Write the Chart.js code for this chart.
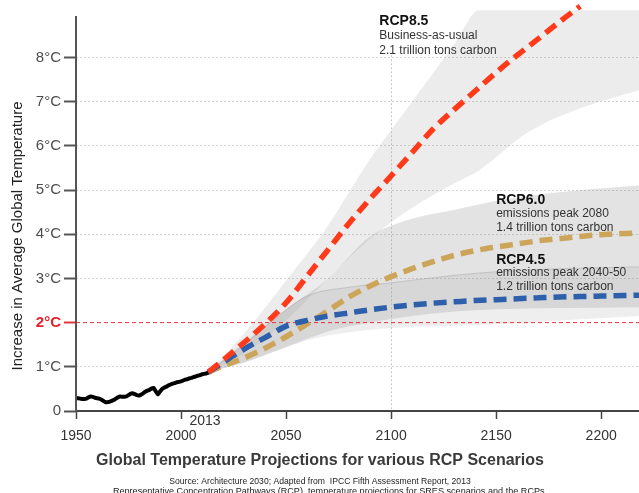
<!DOCTYPE html>
<html>
<head>
<meta charset="utf-8">
<script src="https://cdn.jsdelivr.net/npm/chart.js@4.4.1/dist/chart.umd.min.js"></script>
<style>
html,body{margin:0;padding:0;background:#fff;overflow:hidden}
#wrap{width:639px;height:493px;position:relative}
</style>
</head>
<body>
<div id="wrap"><canvas id="c" width="639" height="493"></canvas></div>
<script>
// ---------- data ----------
const histYears = [1950,1951,1952,1953,1954,1955,1956,1957,1958,1959,1960,1961,1962,1963,1964,1965,1966,1967,1968,1969,1970,1971,1972,1973,1974,1975,1976,1977,1978,1979,1980,1981,1982,1983,1984,1985,1986,1987,1988,1989,1990,1991,1992,1993,1994,1995,1996,1997,1998,1999,2000,2001,2002,2003,2004,2005,2006,2007,2008,2009,2010,2011,2012,2013];
const histTemp = [0.29,0.29,0.28,0.27,0.27,0.28,0.31,0.33,0.32,0.30,0.29,0.28,0.26,0.23,0.20,0.20,0.21,0.23,0.25,0.28,0.31,0.33,0.32,0.32,0.33,0.36,0.39,0.40,0.38,0.36,0.35,0.37,0.40,0.44,0.46,0.48,0.51,0.52,0.44,0.38,0.44,0.50,0.53,0.55,0.58,0.60,0.62,0.63,0.65,0.66,0.67,0.69,0.71,0.72,0.74,0.75,0.77,0.78,0.80,0.81,0.83,0.84,0.85,0.87];

const rcp85Years = [2013,2020,2030,2040,2050,2060,2070,2080,2090,2100,2110,2120,2130,2140,2150,2160,2170,2180,2190];
const rcp85 = [0.88,1.15,1.55,1.97,2.45,3.05,3.65,4.25,4.80,5.32,5.85,6.38,6.82,7.24,7.66,8.05,8.42,8.80,9.16];

const lineYears = [2013,2020,2030,2040,2050,2060,2070,2080,2090,2100,2110,2120,2130,2140,2150,2160,2170,2180,2190,2200,2218];
const rcp60 = [0.88,1.02,1.20,1.42,1.68,1.97,2.27,2.58,2.83,3.04,3.22,3.38,3.52,3.63,3.71,3.78,3.85,3.90,3.95,3.99,4.03];
const rcp45 = [0.88,1.10,1.40,1.66,1.92,2.05,2.15,2.22,2.29,2.35,2.40,2.44,2.47,2.50,2.52,2.54,2.56,2.58,2.59,2.60,2.62];

const band85Years = [2013,2030,2050,2070,2090,2110,2130,2142,2165,2190,2218];
const band85Upper = [0.88,1.75,2.95,4.20,5.70,7.00,8.30,9.07,9.07,9.07,9.07];
const band85Lower = [0.88,1.30,2.05,3.00,3.90,4.60,5.15,5.45,6.30,6.85,7.26];

const band60Years = [2013,2030,2050,2070,2090,2110,2130,2150,2180,2218];
const band60Upper = [0.88,1.55,2.30,3.00,3.95,4.35,4.55,4.75,4.95,5.10];
const band60Lower = [0.88,1.10,1.45,1.80,2.00,2.15,2.25,2.30,2.33,2.35];

const band45Years = [2013,2030,2045,2060,2080,2100,2130,2150,2180,2218];
const band45Upper = [0.88,1.50,2.10,2.60,2.80,2.90,3.07,3.15,3.22,3.26];
const band45Lower = [0.88,1.10,1.35,1.60,1.78,1.88,1.93,1.97,2.05,2.15];

const limitYears = [1950,2218];
const limitTemp = [2,2];

const xTicks = [1950,2000,2050,2100,2150,2200];
const xTickLabels = ['1950','2000','2050','2100','2150','2200'];
const yTicks = [0,1,2,3,4,5,6,7,8];
const yTickLabels = ['0','1°C','2°C','3°C','4°C','5°C','6°C','7°C','8°C'];

// ---------- styling / layout ----------
const FONT = '"Liberation Sans", Arial, sans-serif';
const pts = (xs, ys) => xs.map((v, i) => ({x: v, y: ys[i]}));

const lineStyle = (color, order) => ({
  borderColor: color, borderWidth: 5.5, borderDash: [13, 7], borderCapStyle: 'butt',
  pointRadius: 0, fill: false, cubicInterpolationMode: 'monotone', order
});
const bandTop = (color) => ({
  borderWidth: 0, pointRadius: 0, fill: '+1', backgroundColor: color,
  cubicInterpolationMode: 'monotone', order: 20
});
const bandBottom = () => ({
  borderWidth: 0, pointRadius: 0, fill: false, cubicInterpolationMode: 'monotone', order: 20
});

const datasets = [
  Object.assign({label: 'RCP8.5', data: pts(rcp85Years, rcp85)}, lineStyle('#ff3a1a', 0)),
  Object.assign({label: 'RCP4.5', data: pts(lineYears, rcp45)}, lineStyle('#2d5faa', 1)),
  Object.assign({label: 'RCP6.0', data: pts(lineYears, rcp60)}, lineStyle('#cca55a', 2)),
  {label: 'Observed', data: pts(histYears, histTemp), borderColor: '#000', borderWidth: 4,
   borderJoinStyle: 'round', borderCapStyle: 'round', pointRadius: 0, fill: false, tension: 0, order: 3},
  Object.assign({label: 'RCP8.5 range top', data: pts(band85Years, band85Upper)}, bandTop('rgba(160,160,160,0.2)')),
  Object.assign({label: 'RCP8.5 range bottom', data: pts(band85Years, band85Lower)}, bandBottom()),
  Object.assign({label: 'RCP6.0 range top', data: pts(band60Years, band60Upper)}, bandTop('rgba(150,150,150,0.27)')),
  Object.assign({label: 'RCP6.0 range bottom', data: pts(band60Years, band60Lower)}, bandBottom()),
  Object.assign({label: 'RCP4.5 range top', data: pts(band45Years, band45Upper)}, bandTop('rgba(150,150,150,0.16)'),
     {borderWidth: 1, borderColor: 'rgba(165,165,165,0.45)'}),
  Object.assign({label: 'RCP4.5 range bottom', data: pts(band45Years, band45Lower)}, bandBottom()),
  {label: '2°C', data: pts(limitYears, limitTemp), borderColor: '#e8323c', borderWidth: 1,
   borderDash: [4, 3], pointRadius: 0, fill: false, order: 5}
];

const notes = [
  {t: 'RCP8.5', yr: 2094.4, v: 8.82, bold: true},
  {t: 'Business-as-usual', yr: 2094.4, v: 8.485},
  {t: '2.1 trillion tons carbon', yr: 2094.4, v: 8.157},
  {t: 'RCP6.0', yr: 2150, v: 4.781, bold: true},
  {t: 'emissions peak 2080', yr: 2150, v: 4.473},
  {t: '1.4 trillion tons carbon', yr: 2150, v: 4.157},
  {t: 'RCP4.5', yr: 2150, v: 3.424, bold: true},
  {t: 'emissions peak 2040-50', yr: 2150, v: 3.138},
  {t: '1.2 trillion tons carbon', yr: 2150, v: 2.82}
];

const overlay = {
  id: 'overlay',
  beforeDatasetsDraw(chart) {
    const {ctx, scales: {x, y}} = chart;
    ctx.save();
    ctx.strokeStyle = '#c8c8c8'; ctx.lineWidth = 1; ctx.setLineDash([2, 2]);
    const px = Math.round(x.getPixelForValue(2100)) + 0.5;
    ctx.beginPath(); ctx.moveTo(px, y.getPixelForValue(8.05)); ctx.lineTo(px, y.getPixelForValue(0)); ctx.stroke();
    ctx.restore();
  },
  afterDraw(chart) {
    const {ctx, scales: {x, y}} = chart;
    ctx.save();
    // vertical axis line
    ctx.strokeStyle = '#555'; ctx.lineWidth = 2;
    const ax = x.getPixelForValue(1950);
    ctx.beginPath(); ctx.moveTo(ax, y.getPixelForValue(8.94)); ctx.lineTo(ax, y.getPixelForValue(0) + 1); ctx.stroke();
    // scenario notes
    ctx.textBaseline = 'middle'; ctx.textAlign = 'left';
    notes.forEach(n => {
      ctx.font = n.bold ? 'bold 14px ' + FONT : '12px ' + FONT;
      ctx.fillStyle = n.bold ? '#111' : '#333';
      ctx.fillText(n.t, x.getPixelForValue(n.yr), y.getPixelForValue(n.v));
    });
    // 2013 label
    ctx.textAlign = 'center';
    ctx.font = '14px ' + FONT; ctx.fillStyle = '#333';
    ctx.fillText('2013', x.getPixelForValue(2011.4), y.getPixelForValue(-0.23));
    // y axis title
    ctx.save();
    ctx.translate(18, 236); ctx.rotate(-Math.PI / 2);
    ctx.font = '15px ' + FONT; ctx.fillStyle = '#222';
    ctx.fillText('Increase in Average Global Temperature', 0, 0);
    ctx.restore();
    // bottom title and sources
    ctx.fillStyle = '#3a3a3a';
    ctx.font = 'bold 16px ' + FONT;
    ctx.fillText('Global Temperature Projections for various RCP Scenarios', 320, 461);
    ctx.fillStyle = '#222';
    ctx.font = '8.6px ' + FONT;
    ctx.fillText('Source: Architecture 2030; Adapted from  IPCC Fifth Assessment Report, 2013', 320, 482);
    ctx.font = '9.1px ' + FONT;
    ctx.fillText('Representative Concentration Pathways (RCP), temperature projections for SRES scenarios and the RCPs.', 330, 491);
    ctx.restore();
  }
};

new Chart(document.getElementById('c'), {
  type: 'line',
  data: {datasets},
  options: {
    responsive: false,
    animation: false,
    events: [],
    layout: {padding: 0},
    plugins: {legend: {display: false}, tooltip: {enabled: false}, title: {display: false}},
    scales: {
      x: {
        type: 'linear', min: 1950, max: 2218,
        afterBuildTicks: s => { s.ticks = xTicks.map(v => ({value: v})); },
        afterFit: s => { s.height = 82; s.paddingLeft = 0; s.paddingRight = 0; s.paddingTop = 0; s.paddingBottom = 0; },
        ticks: {
          callback: (v, i) => xTickLabels[i],
          color: '#333', font: {size: 14, family: FONT}, padding: 9, maxRotation: 0, autoSkip: false
        },
        grid: {color: 'rgba(0,0,0,0)', tickColor: '#444', tickLength: 8, tickWidth: 1.5, drawOnChartArea: true},
        border: {display: true, color: '#444', width: 2}
      },
      y: {
        type: 'linear', min: 0, max: 9.3,
        afterBuildTicks: s => { s.ticks = yTicks.map(v => ({value: v})); },
        afterFit: s => { s.width = 76; s.paddingLeft = 0; s.paddingRight = 0; s.paddingTop = 0; s.paddingBottom = 0; },
        ticks: {
          callback: (v, i) => yTickLabels[i],
          color: c => (c.tick && c.tick.value === 2) ? '#e5202a' : '#4d4d4d',
          font: c => ({size: 15, family: FONT, weight: (c.tick && c.tick.value === 2) ? 'bold' : 'normal'}),
          padding: 3, autoSkip: false
        },
        grid: {
          color: c => (c.tick && c.tick.value >= 1 && c.tick.value !== 2) ? '#d2d2d2' : 'rgba(0,0,0,0)',
          tickColor: c => (c.tick && c.tick.value === 2) ? '#e8323c' : '#555',
          tickLength: 12, tickWidth: 2, lineWidth: 1
        },
        border: {display: false, dash: [2, 2]}
      }
    }
  },
  plugins: [overlay]
});
</script>
</body>
</html>
